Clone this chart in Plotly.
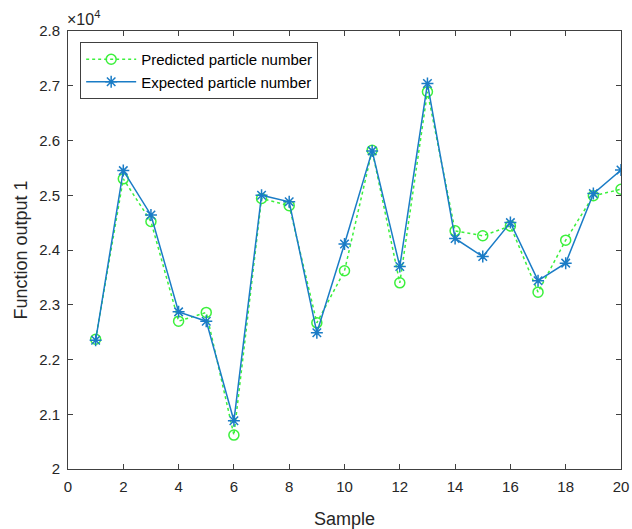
import plotly.graph_objects as go

samples = list(range(1, 21))
predicted = [2.237, 2.530, 2.452, 2.270, 2.286, 2.062, 2.494, 2.481, 2.267, 2.362,
             2.582, 2.340, 2.689, 2.435, 2.426, 2.444, 2.323, 2.418, 2.499, 2.511]
expected = [2.235, 2.545, 2.464, 2.287, 2.270, 2.088, 2.500, 2.488, 2.249, 2.411,
            2.581, 2.370, 2.704, 2.421, 2.388, 2.450, 2.344, 2.376, 2.503, 2.546]
x_ticks = list(range(0, 21, 2))
y_ticks = [2.0, 2.1, 2.2, 2.3, 2.4, 2.5, 2.6, 2.7, 2.8]
y_tick_text = ["2", "2.1", "2.2", "2.3", "2.4", "2.5", "2.6", "2.7", "2.8"]

green = "#3cf03c"
blue = "#1a7cc6"
axis_col = "#404040"
font_family = "Liberation Sans, Arial, sans-serif"

fig = go.Figure()
fig.add_trace(go.Scatter(
    x=samples, y=predicted, mode="lines+markers", name="Predicted particle number",
    line=dict(color=green, width=1.5, dash="dot"),
    marker=dict(symbol="circle-open", size=10, color=green, line=dict(width=1.5, color=green)),
))
fig.add_trace(go.Scatter(
    x=samples, y=expected, mode="lines+markers", name="Expected particle number",
    line=dict(color=blue, width=1.5),
    marker=dict(symbol="asterisk-open", size=10, color=blue, line=dict(width=1.5, color=blue)),
))

axis_common = dict(
    showline=True, linecolor=axis_col, linewidth=1, mirror="allticks",
    ticks="inside", ticklen=5, tickcolor=axis_col, showgrid=False, zeroline=False,
    tickfont=dict(family=font_family, size=15, color="#262626"), automargin=False,
    ticklabelstandoff=4,
)

fig.update_layout(
    width=632, height=529,
    margin=dict(l=68, r=11, t=31, b=60),
    paper_bgcolor="white", plot_bgcolor="white",
    font=dict(family=font_family, color="#262626"),
    xaxis=dict(range=[0, 20], tickvals=x_ticks,
               title=dict(text="Sample", font=dict(size=18), standoff=18), **axis_common),
    yaxis=dict(range=[2.0, 2.8], tickvals=y_ticks, ticktext=y_tick_text,
               title=dict(text="Function output 1", font=dict(size=18), standoff=6), **axis_common),
    legend=dict(x=0.022, y=0.975, xanchor="left", yanchor="top",
                bgcolor="white", bordercolor=axis_col, borderwidth=1, itemwidth=50,
                font=dict(size=15, color="#000000"), tracegroupgap=0),
    showlegend=True,
    annotations=[dict(text="×10<sup>4</sup>", xref="paper", yref="paper", x=-0.005, y=1,
                      xanchor="left", yanchor="bottom", showarrow=False, yshift=1,
                      font=dict(size=16, color="#262626"))],
)

fig.write_html("out.html", config={"displayModeBar": False},
               post_script="document.body.style.margin='0';")
